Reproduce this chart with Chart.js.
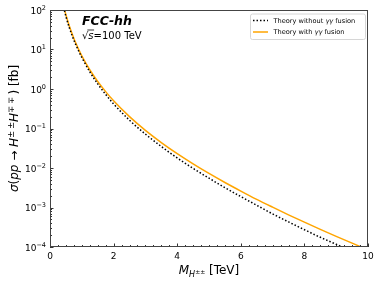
<!DOCTYPE html>
<html>
<head>
<meta charset="utf-8">
<script src="https://cdn.jsdelivr.net/npm/chart.js@4"></script>
<style>
  html, body { margin: 0; padding: 0; background: #fff; }
  #wrap { width: 381px; height: 284px; position: relative; }
</style>
</head>
<body>
<div id="wrap"><canvas id="xsec"></canvas></div>
<script>
// doubly charged Higgs pair production at FCC-hh
const massTeV = [0.4, 0.5, 0.6, 0.7, 0.8, 0.9, 1.0, 1.25, 1.5, 1.75, 2.0, 2.5, 3.0, 3.5, 4.0, 4.5, 5.0, 5.5, 6.0, 6.5, 7.0, 7.5, 8.0, 8.5, 9.0, 9.5, 10];
const withFusion = [159, 75.5, 40.9, 24.2, 15.2, 10.1, 6.92, 3.07, 1.55, 0.857, 0.503, 0.2, 0.0897, 0.0441, 0.0231, 0.01274, 0.00728, 0.0043, 0.00261, 0.00161, 0.00102, 6.53e-4, 4.25e-4, 2.79e-4, 1.86e-4, 1.25e-4, 8.47e-5];
const withoutFusion = [145, 68.9, 37.3, 22.0, 13.9, 9.18, 6.31, 2.74, 1.35, 0.73, 0.419, 0.162, 0.0721, 0.035, 0.01795, 0.00977, 0.00552, 0.00318, 0.00189, 0.00114, 6.89e-4, 4.32e-4, 2.74e-4, 1.76e-4, 1.17e-4, 7.7e-5, 5.1e-5];

const xTicks = [0, 2, 4, 6, 8, 10];
const yTickExps = [-4, -3, -2, -1, 0, 1, 2];
const legendLabels = ['Theory without \u03b3\u03b3 fusion', 'Theory with \u03b3\u03b3 fusion'];

const FONT = '"DejaVu Sans", sans-serif';

const toPoints = (ys) => massTeV.map((m, i) => ({ x: m, y: ys[i] }));

// draws a run of [text, font, dy] pieces, returns width
const drawRuns = (ctx, runs, x, y, measureOnly) => {
    let w = 0;
    for (let i = 0; i < runs.length; i++) {
        ctx.font = runs[i][1];
        if (!measureOnly) ctx.fillText(runs[i][0], x + w, y + (runs[i][2] || 0));
        w += ctx.measureText(runs[i][0]).width;
    }
    return w;
};

const axesDecor = {
    id: 'axesDecor',
    afterDraw(chart) {
        const ctx = chart.ctx;
        const a = chart.chartArea;
        const xs = chart.scales.x;
        const ys = chart.scales.y;
        ctx.save();
        ctx.fillStyle = '#000';
        ctx.strokeStyle = '#333';
        ctx.lineWidth = 1;

        // ticks (pointing inward)
        ctx.beginPath();
        for (let v = 0; v <= 10.001; v += 0.25) {
            const px = Math.round(xs.getPixelForValue(v)) + 0.5;
            const len = Math.abs(v / 2 - Math.round(v / 2)) < 1e-6 ? 3.5 : 2;
            ctx.moveTo(px, a.bottom);
            ctx.lineTo(px, a.bottom - len);
        }
        for (let e = -4; e <= 2; e++) {
            for (let k = 1; k <= 9; k++) {
                const v = k * Math.pow(10, e);
                if (v > 100.0001) break;
                const py = Math.round(ys.getPixelForValue(v)) + 0.5;
                ctx.moveTo(a.left, py);
                ctx.lineTo(a.left + (k === 1 ? 3.5 : 2), py);
            }
        }
        ctx.stroke();

        // frame
        ctx.strokeStyle = '#444';
        ctx.strokeRect(a.left + 0.5, a.top + 0.5, a.right - a.left - 1, a.bottom - a.top - 1);

        // x tick labels
        ctx.font = '9px ' + FONT;
        ctx.textAlign = 'center';
        ctx.textBaseline = 'alphabetic';
        xTicks.forEach(v => ctx.fillText(String(v), xs.getPixelForValue(v), 259));

        // y tick labels 10^n
        ctx.textAlign = 'left';
        yTickExps.forEach(e => {
            const py = ys.getPixelForValue(Math.pow(10, e));
            const sup = e < 0 ? '\u2212' + (-e) : String(e);
            const runs = [['10', '9px ' + FONT, 0], [sup, '6.5px ' + FONT, -4]];
            const w = drawRuns(ctx, runs, 0, 0, true);
            drawRuns(ctx, runs, 46 - w, py + 3.5);
        });

        // x axis title
        const xt = [
            ['M', 'italic 12px ' + FONT, 0],
            ['H', 'italic 8px ' + FONT, 2.5],
            ['\u00b1\u00b1', '6px ' + FONT, -0.5],
            [' [TeV]', '12px ' + FONT, 0]
        ];
        const xw = drawRuns(ctx, xt, 0, 0, true);
        drawRuns(ctx, xt, (a.left + a.right) / 2 - xw / 2, 274);

        // y axis title (rotated)
        const yt = [
            ['\u03c3', 'italic 12px ' + FONT, 0],
            ['(', '12px ' + FONT, 0],
            ['pp', 'italic 12px ' + FONT, 0],
            [' \u2192 ', '12px ' + FONT, 0],
            ['H', 'italic 12px ' + FONT, 0],
            ['\u00b1\u2009\u00b1', '8.5px ' + FONT, -4.5],
            ['H', 'italic 12px ' + FONT, 0],
            ['\u2213\u2009\u2213', '8.5px ' + FONT, -4.5],
            ['\u2009)', '12px ' + FONT, 0],
            [' [fb]', '12px ' + FONT, 0]
        ];
        const yw = drawRuns(ctx, yt, 0, 0, true);
        ctx.save();
        ctx.translate(18, (a.top + a.bottom) / 2);
        ctx.rotate(-Math.PI / 2);
        drawRuns(ctx, yt, -yw / 2, 0);
        ctx.restore();

        // experiment label
        ctx.font = 'italic bold 12.5px ' + FONT;
        ctx.fillText('FCC-hh', 82, 25);
        const sx = 82;
        const sy = 38.5;
        const r1 = [['\u221a', '10px ' + FONT, 0]];
        const w1 = drawRuns(ctx, r1, sx, sy);
        ctx.font = 'italic 10px ' + FONT;
        const sw = ctx.measureText('s').width;
        ctx.fillText('s', sx + w1, sy);
        ctx.beginPath();
        ctx.lineWidth = 0.8;
        ctx.strokeStyle = '#000';
        ctx.moveTo(sx + w1 - 1, sy - 8.5);
        ctx.lineTo(sx + w1 + sw + 0.5, sy - 8.5);
        ctx.stroke();
        drawRuns(ctx, [['=100 TeV', '10px ' + FONT, 0]], sx + w1 + sw, sy);

        // legend
        const lx = 250, ly = 13.5, lw = 115, lh = 25.5;
        ctx.beginPath();
        ctx.roundRect(lx + 0.5, ly + 0.5, lw, lh, 2);
        ctx.fillStyle = 'rgba(255,255,255,0.8)';
        ctx.fill();
        ctx.strokeStyle = '#d6d6d6';
        ctx.lineWidth = 1;
        ctx.stroke();
        chart.data.datasets.forEach((ds, i) => {
            const rowY = ly + 7 + i * 11.5;
            ctx.beginPath();
            ctx.strokeStyle = ds.borderColor;
            ctx.lineWidth = ds.borderWidth;
            ctx.setLineDash(ds.borderDash || []);
            ctx.moveTo(253, rowY);
            ctx.lineTo(268, rowY);
            ctx.stroke();
            ctx.setLineDash([]);
            ctx.fillStyle = '#000';
            const label = ds.label;
            const idx = label.indexOf('\u03b3\u03b3');
            drawRuns(ctx, [
                [label.slice(0, idx), '6.6px ' + FONT, 0],
                ['\u03b3\u03b3', 'italic 6.6px ' + FONT, 0],
                [label.slice(idx + 2), '6.6px ' + FONT, 0]
            ], 273.5, rowY + 2.4);
        });

        ctx.restore();
    }
};

new Chart(document.getElementById('xsec'), {
    type: 'line',
    data: {
        datasets: [
            {
                label: legendLabels[0],
                data: toPoints(withoutFusion),
                borderColor: '#000',
                borderWidth: 1.5,
                borderDash: [1.5, 2],
                pointRadius: 0,
                cubicInterpolationMode: 'monotone'
            },
            {
                label: legendLabels[1],
                data: toPoints(withFusion),
                borderColor: '#ffa500',
                borderWidth: 1.5,
                pointRadius: 0,
                cubicInterpolationMode: 'monotone'
            }
        ]
    },
    options: {
        responsive: true,
        maintainAspectRatio: false,
        animation: false,
        layout: { padding: { left: 50, top: 10, right: 13, bottom: 37 } },
        plugins: { legend: { display: false }, tooltip: { enabled: false } },
        scales: {
            x: { type: 'linear', min: 0, max: 10, display: false },
            y: { type: 'logarithmic', min: 1e-4, max: 100, display: false }
        }
    },
    plugins: [axesDecor]
});
</script>
</body>
</html>
